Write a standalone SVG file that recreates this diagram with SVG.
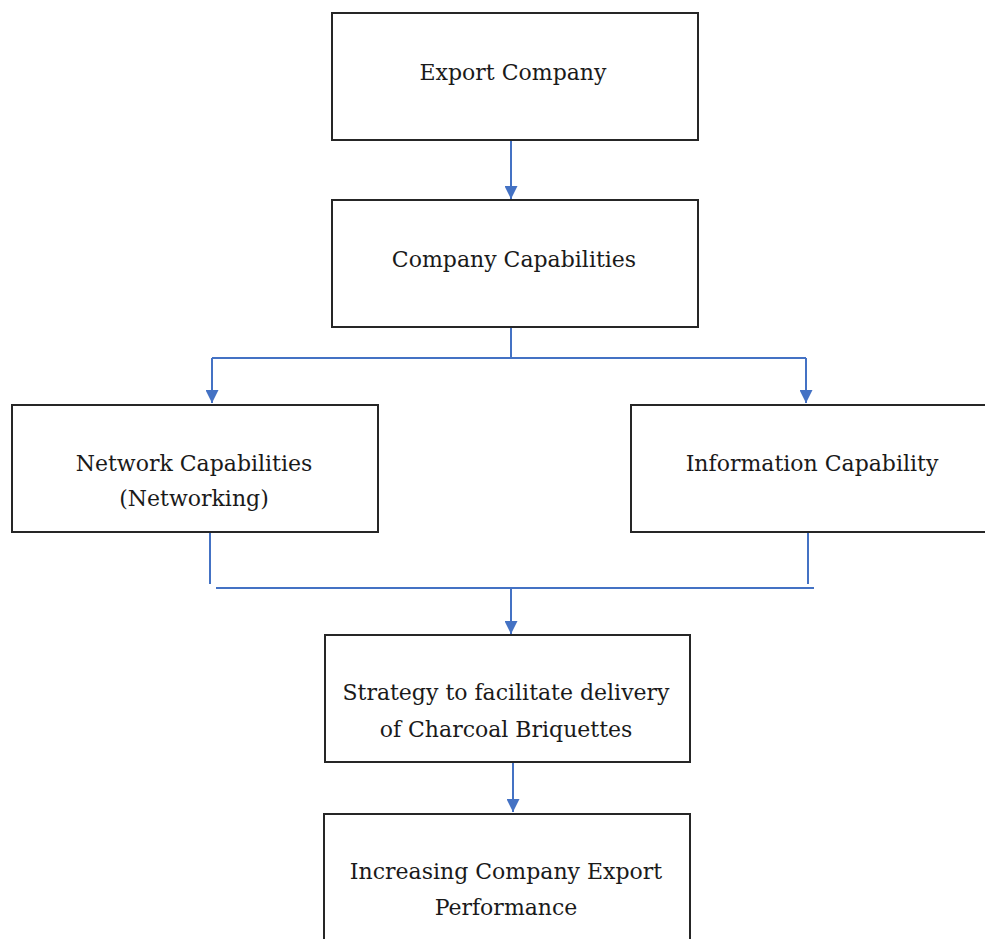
<svg xmlns="http://www.w3.org/2000/svg" width="985" height="939" viewBox="0 0 985 939">
<defs>
<style>
.box{fill:#fff;stroke:#262626;stroke-width:2}
.t{font-family:"DejaVu Serif",serif;font-size:22px;fill:#1a1a1a;text-anchor:middle}
.c{fill:none;stroke:#4472C4;stroke-width:2}
</style>
<marker id="a" viewBox="0 0 12 12" refX="12" refY="6" markerWidth="13" markerHeight="13" markerUnits="userSpaceOnUse" orient="auto">
<path d="M0,0 L12,6 L0,12 z" fill="#4472C4"/>
</marker>
</defs>
<g id="connectors">
<path class="c" d="M511,141 V199" marker-end="url(#a)"/>
<path class="c" d="M511,328 V358"/>
<path class="c" d="M212,358 H806"/>
<path class="c" d="M212,358 V403" marker-end="url(#a)"/>
<path class="c" d="M806,358 V403" marker-end="url(#a)"/>
<path class="c" d="M210,533 V584"/>
<path class="c" d="M808,533 V584"/>
<path class="c" d="M216,588 H814"/>
<path class="c" d="M511,588 V634" marker-end="url(#a)"/>
<path class="c" d="M513,763 V812" marker-end="url(#a)"/>
</g>
<g id="export-company">
<rect class="box" x="332" y="13" width="366" height="127"/>
<text class="t" x="513" y="80">Export Company</text>
</g>
<g id="company-capabilities">
<rect class="box" x="332" y="200" width="366" height="127"/>
<text class="t" x="514" y="267">Company Capabilities</text>
</g>
<g id="network-capabilities">
<rect class="box" x="12" y="405" width="366" height="127"/>
<text class="t" x="194" y="471">Network Capabilities</text>
<text class="t" x="194" y="506">(Networking)</text>
</g>
<g id="information-capability">
<rect class="box" x="631" y="405" width="370" height="127"/>
<text class="t" x="812" y="471">Information Capability</text>
</g>
<g id="strategy">
<rect class="box" x="325" y="635" width="365" height="127"/>
<text class="t" x="506" y="700">Strategy to facilitate delivery</text>
<text class="t" x="506" y="737">of Charcoal Briquettes</text>
</g>
<g id="increasing-performance">
<rect class="box" x="324" y="814" width="366" height="140"/>
<text class="t" x="506" y="879">Increasing Company Export</text>
<text class="t" x="506" y="915">Performance</text>
</g>
</svg>
